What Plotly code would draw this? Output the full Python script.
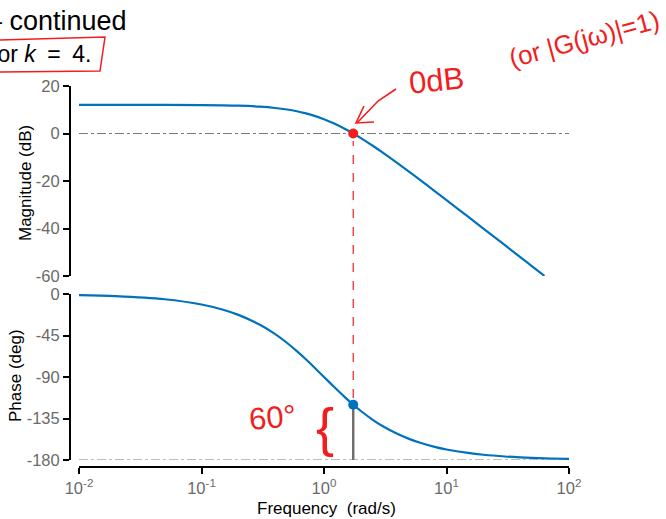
import plotly.graph_objects as go

# ---------------- data ----------------
w_mag = [0.01, 0.02, 0.05, 0.1, 0.15, 0.2, 0.3, 0.4, 0.5, 0.6, 0.7, 0.8, 1.0, 1.2, 1.5,
         1.732, 2, 2.5, 3, 4, 5, 6, 8, 10, 15, 20, 30, 40, 50, 63]
mag_db = [12.04, 12.04, 12.02, 11.95, 11.85, 11.70, 11.29, 10.75, 10.10, 9.37, 8.58, 7.74,
          6.02, 4.29, 1.80, 0.00, -1.94, -5.17, -7.96, -12.57, -16.26, -19.33, -24.22,
          -28.05, -35.04, -40.02, -47.05, -52.05, -55.92, -59.94]
w_ph = [0.01, 0.02, 0.05, 0.1, 0.15, 0.2, 0.3, 0.4, 0.5, 0.6, 0.7, 0.8, 1.0, 1.2, 1.5,
        1.732, 2, 2.5, 3, 4, 5, 6, 8, 10, 15, 20, 30, 40, 50, 70, 100]
phase_deg = [-1.15, -2.29, -5.72, -11.42, -17.06, -22.62, -33.40, -43.60, -53.13, -61.93,
             -69.98, -77.32, -90.00, -100.39, -112.62, -120.00, -126.87, -136.40, -143.13,
             -151.93, -157.38, -161.08, -165.75, -168.58, -172.37, -174.28, -176.18,
             -177.14, -177.71, -178.36, -178.85]
w_cross = 1.732
phase_cross = -120
mag_ticks = [-60, -40, -20, 0, 20]
mag_ticktext = ["-60", "-40", "-20", "0", "20"]
phase_ticks = [-180, -135, -90, -45, 0]
phase_ticktext = ["-180", "-135", "-90", "-45", "0"]
freq_ticks = [0.01, 0.1, 1, 10, 100]
freq_ticktext = ["10<sup>-2</sup>", "10<sup>-1</sup>", "10<sup>0</sup>",
                 "10<sup>1</sup>", "10<sup>2</sup>"]

# ---------------- helpers ----------------
W, H = 666, 519
def px(x):
    return x / W
def py(y):
    return 1 - y / H
def path(points, close=False):
    s = "M " + " L ".join(f"{px(x):.5f},{py(y):.5f}" for x, y in points)
    return s + (" Z" if close else "")

BLUE = "#0072BD"
RED = "#f21d1d"
GRAY = "#7a7a7a"
TICKGRAY = "#6a6a6a"
FONT = "Liberation Sans, Arial, sans-serif"

fig = go.Figure()

# magnitude (top)
fig.add_trace(go.Scatter(x=w_mag, y=mag_db, mode="lines", line=dict(color=BLUE, width=2.2, shape="spline"),
                         xaxis="x2", yaxis="y2", hoverinfo="skip"))
fig.add_trace(go.Scatter(x=[freq_ticks[0], freq_ticks[-1]], y=[0, 0], mode="lines",
                         line=dict(color=GRAY, width=1, dash="dashdot"), xaxis="x2", yaxis="y2"))
fig.add_trace(go.Scatter(x=[w_cross], y=[0], mode="markers", marker=dict(color=RED, size=10),
                         xaxis="x2", yaxis="y2", cliponaxis=False))

# phase (bottom)
fig.add_trace(go.Scatter(x=[freq_ticks[0], freq_ticks[-1]], y=[-180, -180], mode="lines",
                         line=dict(color=GRAY, width=1, dash="dashdot"), xaxis="x", yaxis="y",
                         cliponaxis=False))
fig.add_trace(go.Scatter(x=[w_cross, w_cross], y=[phase_cross, -180], mode="lines",
                         line=dict(color="#6f6f6f", width=2.5), xaxis="x", yaxis="y", cliponaxis=False))
fig.add_trace(go.Scatter(x=w_ph, y=phase_deg, mode="lines", line=dict(color=BLUE, width=2.2, shape="spline"),
                         xaxis="x", yaxis="y", cliponaxis=False))
fig.add_trace(go.Scatter(x=[w_cross], y=[phase_cross], mode="markers", marker=dict(color=BLUE, size=10),
                         xaxis="x", yaxis="y", cliponaxis=False))

xdom = [px(79), px(569)]
axis_common = dict(showgrid=False, zeroline=False, showline=True, linecolor="black", linewidth=2,
                   ticks="outside", ticklen=6, tickwidth=2, tickcolor="black", automargin=False,
                   tickfont=dict(family=FONT, size=16.5, color=TICKGRAY))

shapes = [
    # red dashed guide from 0 dB point to the phase point
    dict(type="line", xref="x", yref="paper", x0=w_cross, x1=w_cross, y0=py(398), y1=py(141),
         line=dict(color=RED, width=1.2, dash="dash")),
    # hand-drawn arrow to the 0 dB point
    dict(type="path", xref="paper", yref="paper",
         path=path([(396, 89), (378, 101), (357, 123)]), line=dict(color=RED, width=1.6)),
    dict(type="path", xref="paper", yref="paper",
         path=path([(364, 106), (356, 123), (374, 122)]), line=dict(color=RED, width=1.6)),
    # red box around "for k = 4."
    dict(type="path", xref="paper", yref="paper",
         path=path([(-3, 40), (105, 37), (100, 71), (-3, 72)]), line=dict(color=RED, width=1.5)),
]

def note(text, x, y, size, color="black", angle=0, family=FONT, xanchor="center"):
    return dict(text=text, x=px(x), y=py(y), xref="paper", yref="paper", xanchor=xanchor,
                yanchor="middle", textangle=angle, showarrow=False,
                font=dict(family=family, size=size, color=color))

annotations = [
    note("– continued", -15, 21, 27, xanchor="left"),
    note("for <i>k</i>\u2002=\u20024.", -11, 54, 23, xanchor="left"),
    note("Magnitude (dB)", 25, 183, 17, angle=-90),
    note("Phase (deg)", 15, 376, 17, angle=-90),
    note("Frequency\u00a0 (rad/s)", 326, 508, 17),
    # handwritten notes
    note("0dB", 436, 81, 31, RED, angle=-6),
    note("(or |G(jω)|=1)", 584, 39, 26, RED, angle=-15),
    note("60°", 272, 417, 31, RED, angle=-5),
    note("{", 325, 427, 54, RED),
]

fig.update_layout(
    width=W, height=H, margin=dict(l=0, r=0, t=0, b=0, autoexpand=False),
    paper_bgcolor="white", plot_bgcolor="white", showlegend=False,
    xaxis=dict(axis_common, type="log", range=[-2, 2], domain=xdom, anchor="free", position=py(467),
               tickvals=freq_ticks, ticktext=freq_ticktext),
    yaxis=dict(axis_common, range=[-180, 0], domain=[py(460), py(294)], anchor="free", position=px(70),
               tickvals=phase_ticks, ticktext=phase_ticktext),
    xaxis2=dict(type="log", range=[-2, 2], domain=xdom, anchor="y2", visible=False),
    yaxis2=dict(axis_common, range=[-60, 20], domain=[py(276), py(86)], anchor="free", position=px(70),
                tickvals=mag_ticks, ticktext=mag_ticktext),
    shapes=shapes, annotations=annotations,
)

fig.write_html("out.html")
